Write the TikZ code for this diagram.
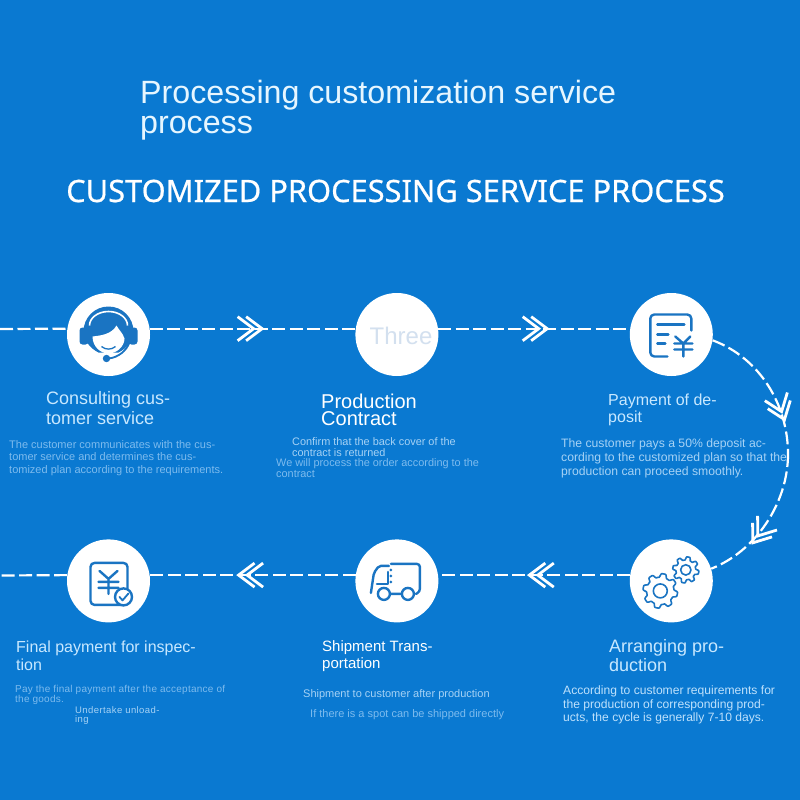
\documentclass[tikz,border=0pt]{standalone}
\usepackage{fontspec}
\usepackage{tikz}
\usetikzlibrary{positioning, calc}
\setmainfont{Liberation Sans}
\newfontfamily\bannerfont[FakeBold=0.6]{Noto Sans}
\definecolor{procblue}{HTML}{0A79D1}
\definecolor{iconblue}{HTML}{1A74C2}
\definecolor{titletext}{HTML}{E6F6FF}
\definecolor{headtext}{HTML}{C8E8FF}
\definecolor{desctext}{HTML}{A6D2F5}
\definecolor{dimtext}{HTML}{7DBBEE}
\definecolor{threetext}{HTML}{D3E0EF}
\newcommand{\pxfont}[2]{\fontsize{#1}{#2}\selectfont}

\begin{document}
\begin{tikzpicture}[
    x=1pt, y=-1pt,
    node distance=163pt and 205pt,
    stop/.style={circle, fill=white, minimum size=83pt, inner sep=0pt},
    headlabel/.style={anchor=north west, inner sep=0pt, align=left, text=headtext},
    desc/.style={anchor=north west, inner sep=0pt, align=left, text=desctext},
    dimdesc/.style={desc, text=dimtext},
    flow/.style={white, line width=2.2pt, dash pattern=on 13pt off 4.5pt},
    icon/.style={iconblue, line width=2.4pt, line cap=round, line join=round},
    chevrons/.pic={
        \draw[solid, white, line width=2.8pt] (-17.5,-12) -- (-1.5,0) -- (-17.5,12) (-26,-12) -- (-10,0) -- (-26,12);
    },
    gearwheel/.pic={
        \draw[icon, solid, line width=1.6pt, domain=0:360, samples=145] plot (\x:{\gearR+\gearA*max(-1,min(1,2*sin(8*\x))});
        \draw[icon, solid, line width=1.6pt] (0,0) circle ({\gearR*0.45});
    },
    headsetpic/.pic={
        \fill[iconblue] (-25,-3) arc (180:360:25) .. controls (25,6) and (18,14) .. (10,18) -- (-10,18) .. controls (-18,14) and (-25,6) .. (-25,-3) -- cycle;
        \fill[iconblue, rounded corners=3pt] (-29,-7) rectangle (-20,10);
        \fill[iconblue, rounded corners=3pt] (29,-7) rectangle (20,10);
        \draw[white, line width=1.6pt] (-19,-9) arc (180:360:19 and 14);
        \fill[white] (-16,2) .. controls (-8,1) and (3,0) .. (8,-9) .. controls (10,-5) and (14,-2) .. (16,4) .. controls (16,12) and (8,19) .. (0,19) .. controls (-8,19) and (-16,12) .. (-16,2) -- cycle;
        \draw[iconblue, line width=1.3pt] (-7,12) .. controls (-3,15.5) and (3,15.5) .. (7,12);
        \draw[iconblue, line width=1.8pt] (21,8) .. controls (18,16) and (10,23) .. (0,24);
        \fill[iconblue] (-2,24) circle (3.7);
    },
    invoicepic/.pic={
        \draw[icon, rounded corners=4pt] (20,-4) -- (20,-20) -- (-21,-20) -- (-21,22) -- (-4,22);
        \draw[icon] (-14,-10) -- (13,-10) (-14,0) -- (-3,0) (-14,9) -- (-6,9);
        \draw[icon] (4,2) -- (12,9) -- (19,2) (3,9) -- (21,9) (3,15) -- (21,15) (12,9) -- (12,22);
    },
    receiptpic/.pic={
        \draw[icon, rounded corners=4pt] (-18,-18) rectangle (19,24);
        \draw[icon] (-9,-10) -- (0,-2) -- (9,-10) (-10,1) -- (10,1) (-10,7) -- (10,7) (0,-2) -- (0,13);
        \draw[icon, fill=white] (15,16) circle (8.5);
        \draw[icon, line width=1.8pt] (11,16) -- (14,19.5) -- (20,12.5);
    },
    truckpic/.pic={
        \draw[icon, rounded corners=3pt] (-6,-17) -- (23,-17) -- (23,11) -- (19,13);
        \draw[icon, rounded corners=2pt] (-8,-15) -- (-18,-15) -- (-23,-8) -- (-26,12);
        \draw[icon] (-20,3) -- (-9,3) -- (-9,-9);
        \fill[iconblue] (-6,-11) circle (1.5) (-6,-5) circle (1.5) (-6,1) circle (1.5);
        \draw[icon] (-13,13) circle (6) (11,13) circle (6) (-7,13) -- (5,13);
    }
]

% Background
\useasboundingbox (0,0) rectangle (800,800);
\fill[procblue] (0,0) rectangle (800,800);

% Titles
\node[anchor=north west, inner sep=0pt, align=left, text=titletext, font=\pxfont{32.2}{30}] (title) at (140,80) {Processing customization service\\process};
\node[inner sep=0pt, text=white, font=\bannerfont\pxfont{30.8}{31}] (banner) at (395.5,191) {CUSTOMIZED PROCESSING SERVICE PROCESS};

% Stops
\node[stop] (consult) at (108.5,334.5) {};
\node[stop, right=of consult] (contract) {};
\node[stop, right=191pt of contract] (deposit) {};
\node[stop, below=of consult] (final) {};
\node[stop, below=of contract] (ship) {};
\node[stop, below=of deposit] (arrange) {};
\coordinate (topend) at (0,329);
\coordinate (lowend) at (0,575.5);
\coordinate (turn) at (788,454);

% Icons
\pic at (consult) {headsetpic};
\node[text=threetext, inner sep=0pt, font=\pxfont{24}{24}] (three) at (401,336) {Three};
\pic at (deposit) {invoicepic};
\pic at (final) {receiptpic};
\pic at (ship) {truckpic};
\def\gearR{15.5}\def\gearA{1.8}
\pic at ($(arrange)+(-11,10)$) {gearwheel};
\def\gearR{11.5}\def\gearA{1.6}
\pic at ($(arrange)+(14.5,-11)$) {gearwheel};

% Labels
\node[headlabel, font=\pxfont{18}{20}] (consulthead) at (46,391) {Consulting cus-\\tomer service};
\node[dimdesc, font=\pxfont{11}{12.6}] (consulttext) at (9,440) {The customer communicates with the cus-\\tomer service and determines the cus-\\tomized plan according to the requirements.};
\node[headlabel, text=white, font=\pxfont{20}{17}] (contracthead) at (321,394) {Production\\Contract};
\node[desc, font=\pxfont{10.9}{11}] (contracttext) at (292,437) {Confirm that the back cover of the\\contract is returned};
\node[dimdesc, font=\pxfont{10.9}{11.5}] (ordertext) at (276,458) {We will process the order according to the\\contract};
\node[headlabel, font=\pxfont{16}{17}] (deposithead) at (608,394) {Payment of de-\\posit};
\node[desc, font=\pxfont{12.2}{14}] (deposittext) at (561,438) {The customer pays a 50\% deposit ac-\\cording to the customized plan so that the\\production can proceed smoothly.};
\node[headlabel, font=\pxfont{18}{19}] (arrangehead) at (609,639) {Arranging pro-\\duction};
\node[desc, text=headtext!70!desctext, font=\pxfont{12.1}{13.5}] (arrangetext) at (563,686) {According to customer requirements for\\the production of corresponding prod-\\ucts, the cycle is generally 7-10 days.};
\node[headlabel, text=white, font=\pxfont{15}{17}] (shiphead) at (322,640) {Shipment Trans-\\portation};
\node[desc, font=\pxfont{11}{11}] (shiptext) at (303,689) {Shipment to customer after production};
\node[dimdesc, font=\pxfont{11}{11}] (spottext) at (310,709) {If there is a spot can be shipped directly};
\node[headlabel, font=\pxfont{16}{18.5}] (finalhead) at (16,640.5) {Final payment for inspec-\\tion};
\node[dimdesc, font=\addfontfeature{LetterSpace=2.5}\pxfont{10}{10}] (finaltext) at (15,685) {Pay the final payment after the acceptance of\\the goods.};
\node[desc, font=\addfontfeature{LetterSpace=4.3}\pxfont{9.5}{9.5}] (unloadtext) at (75,706) {Undertake unload-\\ing};

% Connectors
\draw[flow] (topend) -- (consult.172);
\draw[flow] (consult.8) -- pic[pos=.553]{chevrons} (contract.172);
\draw[flow] (contract.8) -- pic[pos=.576]{chevrons} (deposit.172);
\draw[flow] (deposit.-8) .. controls (760,358) and (788,405) .. (turn);
\draw[flow] (turn) .. controls (788,503) and (756,551) .. (arrange.17);
\draw[flow] (arrange.172) -- pic[pos=.533, rotate=180]{chevrons} (ship.8);
\draw[flow] (ship.172) -- pic[pos=.576, rotate=180]{chevrons} (final.8);
\draw[flow] (final.172) -- (lowend);
\pic[rotate=-70] at (785,421) {chevrons};
\pic[rotate=-126] at (752,544) {chevrons};

\end{tikzpicture}
\end{document}
